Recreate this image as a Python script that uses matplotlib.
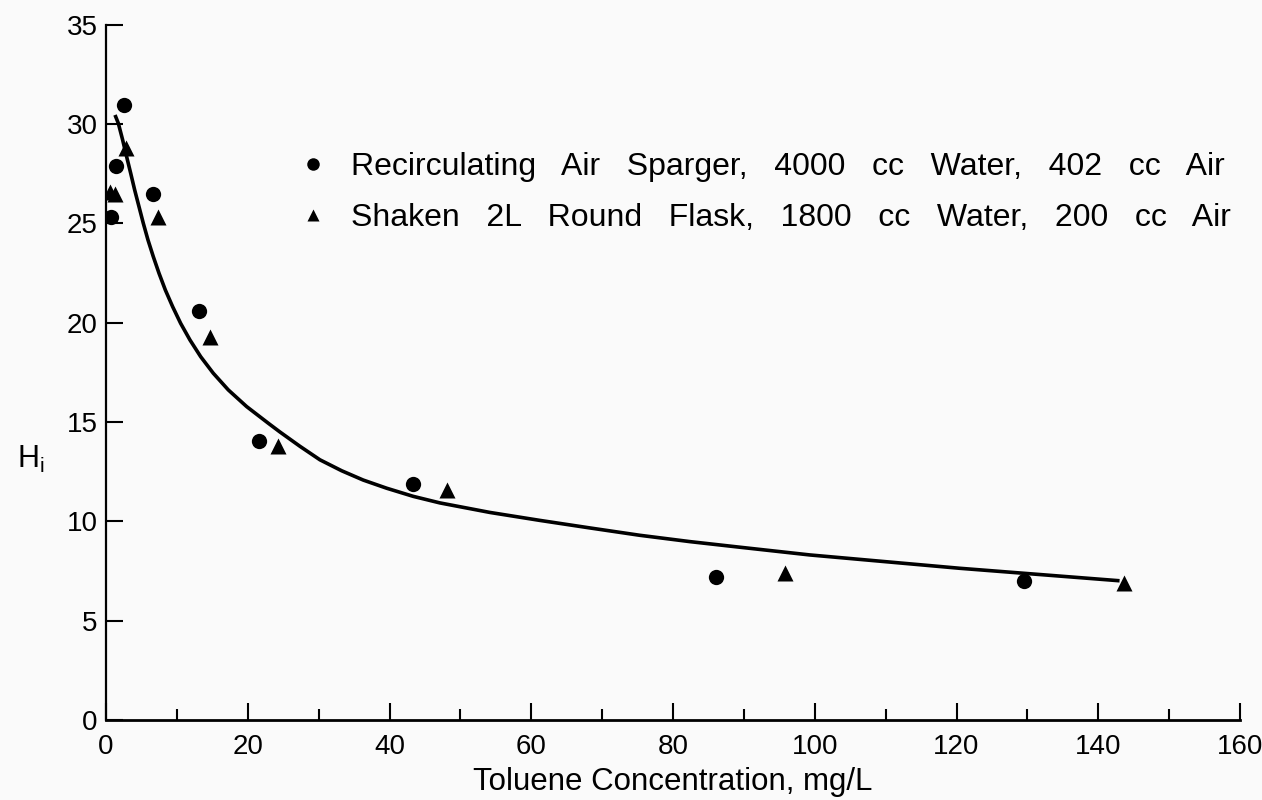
import numpy as np
import matplotlib
matplotlib.use("Agg")
import matplotlib.pyplot as plt
from matplotlib.ticker import MultipleLocator
from matplotlib.lines import Line2D

plt.rcParams['font.family'] = ['Liberation Sans', 'DejaVu Sans']

# Recirculating air sparger (circles)
sparger_x = [0.66, 1.4, 2.55, 6.67, 13.1, 21.6, 43.3, 86.0, 129.5]
sparger_y = [25.3, 27.9, 30.97, 26.5, 20.6, 14.06, 11.87, 7.22, 7.01]

# Shaken 2L round flask (triangles)
flask_x = [0.56, 1.27, 2.82, 7.4, 14.7, 24.2, 48.05, 95.8, 143.6]
flask_y = [26.6, 26.5, 28.8, 25.3, 19.3, 13.8, 11.6, 7.39, 6.91]

# fitted curve
fit_x = [1.27, 1.74, 2.35, 2.91, 3.48, 4.04, 4.65, 5.26, 5.92, 6.67, 7.48,
         8.37, 9.4, 10.53, 11.85, 13.36, 15.13, 17.25, 19.84, 22.9, 24.54,
         27.36, 30.18, 33.24, 36.29, 39.59, 43.34, 47.1, 54.16, 61.2, 68.26,
         75.3, 82.4, 89.4, 99.3, 120.4, 143.0]
fit_y = [30.46, 30.04, 29.2, 28.36, 27.53, 26.69, 25.85, 25.01, 24.17, 23.33, 22.49,
         21.65, 20.81, 19.97, 19.13, 18.29, 17.46, 16.62, 15.78, 14.94, 14.5,
         13.78, 13.1, 12.55, 12.08, 11.67, 11.26, 10.93, 10.45, 10.05, 9.67,
         9.3, 8.98, 8.7, 8.31, 7.64, 7.01]

legend_labels = ["Recirculating   Air   Sparger,   4000   cc   Water,   402   cc   Air",
                 "Shaken   2L   Round   Flask,   1800   cc   Water,   200   cc   Air"]

bg = '#fafafa'
fig = plt.figure(figsize=(12.62, 8), dpi=100, facecolor=bg)
ax = fig.add_axes([0.084, 0.1, 0.8986, 0.869], facecolor=bg)

ax.plot(fit_x, fit_y, color='black', lw=2.6, solid_capstyle='butt', solid_joinstyle='round')
ax.plot(sparger_x, sparger_y, 'o', color='black', ms=11, mec='none')
ax.plot(flask_x, flask_y, '^', color='black', ms=11.5, mec='none')

ax.set_xlim(0, 160)
ax.set_ylim(0, 35)
ax.xaxis.set_major_locator(MultipleLocator(20))
ax.xaxis.set_minor_locator(MultipleLocator(10))
ax.yaxis.set_major_locator(MultipleLocator(5))

for s in ['top', 'right']:
    ax.spines[s].set_visible(False)
ax.spines['bottom'].set_linewidth(2.0)
ax.spines['left'].set_linewidth(1.6)

ax.tick_params(axis='both', which='major', direction='in', length=12, width=1.5,
               labelsize=20, colors='black', pad=6)
ax.tick_params(axis='x', which='minor', direction='in', length=8, width=1.5)
ax.tick_params(axis='x', which='major', pad=10)

ax.set_xlabel("Toluene Concentration, mg/L", fontsize=22.5, labelpad=5)
ax.set_ylabel("H$_\\mathregular{i}$", fontsize=22, rotation=0, ha='center', va='center')
ax.yaxis.set_label_coords(-0.066, 0.375)

handles = [Line2D([], [], marker='o', ls='none', color='black', ms=9, mec='none'),
           Line2D([], [], marker='^', ls='none', color='black', ms=8, mec='none')]
ax.legend(handles, legend_labels, loc='upper left', bbox_to_anchor=(0.157, 0.835),
          frameon=False, fontsize=23, handletextpad=0.7, labelspacing=0.65,
          handlelength=1.0, borderaxespad=0)

fig.savefig("out.png", dpi=100, facecolor=bg)
